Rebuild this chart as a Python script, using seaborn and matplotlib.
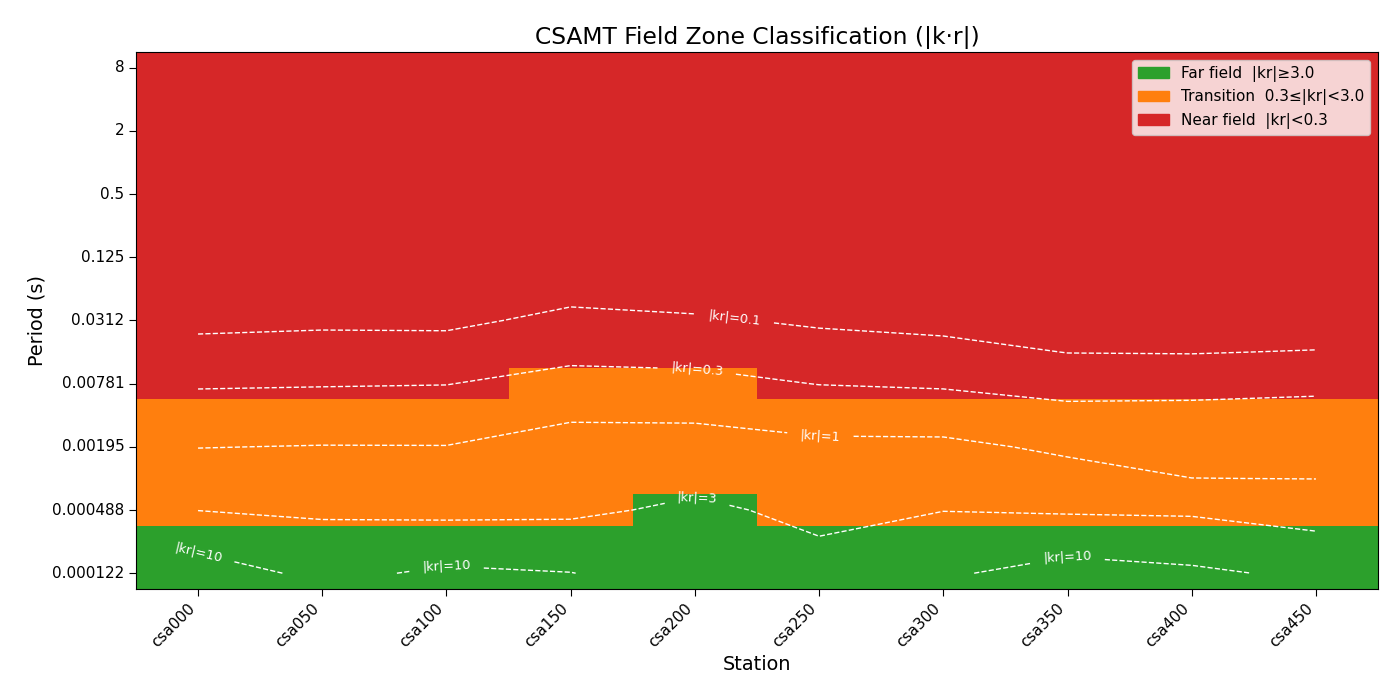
import numpy as np
import pandas as pd
import matplotlib
matplotlib.use("Agg")
import matplotlib.pyplot as plt
from matplotlib.colors import ListedColormap
from matplotlib.patches import Patch
import seaborn as sns

stations = ["csa000", "csa050", "csa100", "csa150", "csa200",
            "csa250", "csa300", "csa350", "csa400", "csa450"]

# periods (s), long to short
periods = [8, 4, 2, 1, 0.5, 0.25, 0.125, 0.0625, 0.03125, 0.015625,
           0.0078125, 0.00390625, 0.001953125, 0.0009765625,
           0.00048828125, 0.000244140625, 0.0001220703125]

# log10|kr| per station, same period order as above
log_kr = [
    [-3.31, -3.03, -2.76, -2.49, -2.21, -1.94, -1.67, -1.39, -1.12, -0.84, -0.57, -0.29, -0.01, 0.24, 0.47, 0.86, 1.24],
    [-3.19, -2.93, -2.66, -2.40, -2.14, -1.87, -1.61, -1.34, -1.08, -0.815, -0.551, -0.268, 0.015, 0.21, 0.408, 0.638, 0.887],
    [-3.32, -3.05, -2.77, -2.49, -2.21, -1.93, -1.65, -1.37, -1.09, -0.813, -0.534, -0.259, 0.012, 0.19, 0.356, 0.734, 1.075],
    [-2.90, -2.65, -2.40, -2.15, -1.90, -1.645, -1.394, -1.143, -0.892, -0.641, -0.365, -0.04, 0.14, 0.295, 0.395, 0.677, 1.01],
    [-3.09, -2.82, -2.55, -2.28, -2.02, -1.75, -1.48, -1.212, -0.944, -0.676, -0.389, -0.06, 0.18, 0.357, 0.56, 0.66, 0.76],
    [-3.18, -2.92, -2.65, -2.39, -2.12, -1.86, -1.59, -1.329, -1.064, -0.799, -0.534, -0.213, 0.11, 0.24, 0.37, 0.499, 0.65],
    [-3.37, -3.09, -2.81, -2.53, -2.25, -1.97, -1.69, -1.416, -1.137, -0.858, -0.579, -0.242, 0.11, 0.29, 0.47, 0.645, 0.951],
    [-3.83, -3.52, -3.21, -2.89, -2.58, -2.27, -1.95, -1.637, -1.323, -1.009, -0.695, -0.388, -0.087, 0.184, 0.42, 0.858, 1.148],
    [-3.96, -3.64, -3.31, -2.98, -2.65, -2.33, -2.00, -1.674, -1.347, -1.02, -0.66, -0.40, -0.20, 0.003, 0.39, 0.825, 1.058],
    [-3.92, -3.59, -3.27, -2.94, -2.61, -2.285, -1.958, -1.631, -1.304, -0.977, -0.61, -0.39, -0.20, -0.005, 0.283, 0.573, 0.937],
]

kr_levels = [0.1, 0.3, 1, 3, 10]
near_limit = 0.3
far_limit = 3.0

zone_colors = ["#d62728", "#ff7f0e", "#2ca02c"]  # near, transition, far

plt.rcParams["font.size"] = 11

z = np.array(log_kr).T  # rows = periods, cols = stations
zones = np.where(z >= np.log10(far_limit), 2, np.where(z >= np.log10(near_limit), 1, 0))
zone_df = pd.DataFrame(zones, index=periods, columns=stations)

fig, ax = plt.subplots(figsize=(14, 7), dpi=100)
fig.subplots_adjust(left=0.0971, right=0.9843, top=0.9257, bottom=0.1586)

sns.heatmap(zone_df, cmap=ListedColormap(zone_colors), vmin=-0.5, vmax=2.5,
            cbar=False, ax=ax)

xc = np.arange(len(stations)) + 0.5
yc = np.arange(len(periods)) + 0.5
cs = ax.contour(xc, yc, z, levels=np.log10(kr_levels), colors="white",
                linewidths=1.0, linestyles="dashed")
label_spots = [(4.82, 8.48), (4.51, 10.22), (5.51, 12.19), (4.52, 14.09),
               (0.50, 15.86), (2.50, 16.24), (7.50, 15.92)]
ax.clabel(cs, fmt=lambda v: f"|kr|={10 ** v:g}", fontsize=9.3,
          inline=True, inline_spacing=13, manual=label_spots)

ax.set_xlim(0, len(stations))
ax.set_ylim(len(periods), 0)
ax.set_xticks(xc)
ax.set_xticklabels(stations, rotation=45, ha="right")
ax.set_yticks(yc[::2])
ax.set_yticklabels([f"{p:.3g}" for p in periods[::2]], rotation=0)
ax.tick_params(length=4.8)
for s in ax.spines.values():
    s.set_visible(True)
    s.set_color("black")

ax.set_xlabel("Station", fontsize=13.9)
ax.set_ylabel("Period (s)", fontsize=13.9)
ax.set_title("CSAMT Field Zone Classification (|k·r|)", fontsize=16.8)

handles = [Patch(color=zone_colors[2], label=f"Far field  |kr|≥{far_limit}"),
           Patch(color=zone_colors[1], label=f"Transition  {near_limit}≤|kr|<{far_limit}"),
           Patch(color=zone_colors[0], label=f"Near field  |kr|<{near_limit}")]
ax.legend(handles=handles, loc="upper right")

fig.savefig("out.png", dpi=100)
